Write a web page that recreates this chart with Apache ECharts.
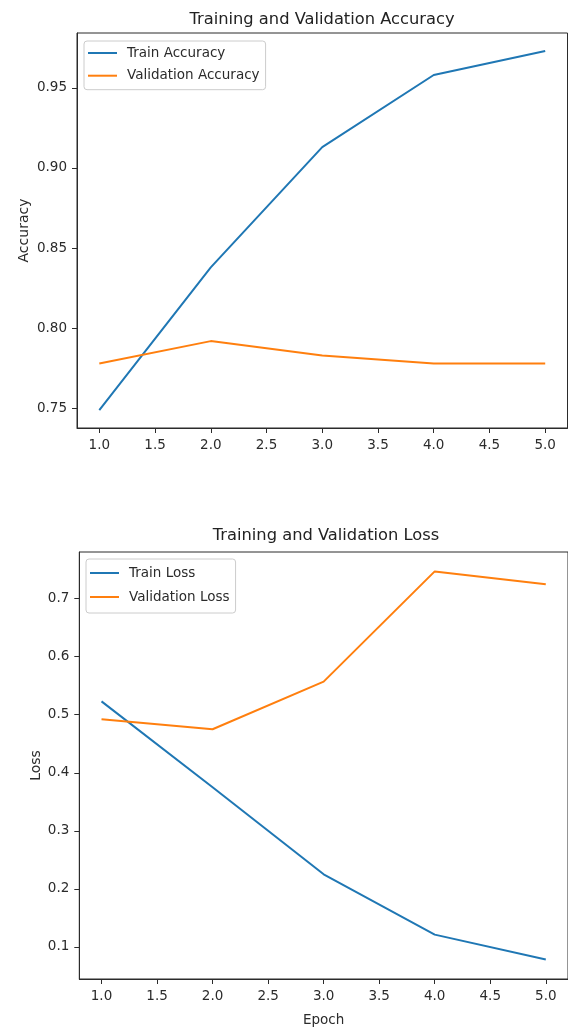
<!DOCTYPE html>
<html>
<head>
<meta charset="utf-8">
<script src="https://cdn.jsdelivr.net/npm/echarts@6/dist/echarts.min.js"></script>
<style>
  html, body { margin: 0; padding: 0; background: #fff; }
  #chart { width: 568px; height: 1028px; }
</style>
</head>
<body>
<div id="chart"></div>
<script>
// ---- Data ----
const epochs = [1, 2, 3, 4, 5];
const trainAcc = [0.749, 0.838, 0.913, 0.958, 0.973];
const valAcc = [0.778, 0.792, 0.783, 0.778, 0.778];
const trainLoss = [0.523, 0.375, 0.225, 0.121, 0.078];
const valLoss = [0.492, 0.475, 0.557, 0.747, 0.725];
const xTicks = [1.0, 1.5, 2.0, 2.5, 3.0, 3.5, 4.0, 4.5, 5.0];
const accTicks = [0.75, 0.80, 0.85, 0.90, 0.95];
const lossTicks = [0.1, 0.2, 0.3, 0.4, 0.5, 0.6, 0.7];

const FONT = 'DejaVu Sans';
const TXT = '#2b2b2b';
const BLUE = '#1f77b4';
const ORANGE = '#ff7f0e';

function pad(arrs) {
  const all = [].concat(...arrs);
  const lo = Math.min(...all), hi = Math.max(...all);
  const m = (hi - lo) * 0.05;
  return [lo - m, hi + m];
}
const accRange = pad([trainAcc, valAcc]);
const lossRange = pad([trainLoss, valLoss]);
const xRange = pad([epochs]);

function pairs(ys) { return epochs.map((e, i) => [e, ys[i]]); }

function xAxisCfg(gi, name) {
  return {
    type: 'value', gridIndex: gi, min: xRange[0], max: xRange[1],
    name: name || '', nameLocation: 'middle', nameGap: 34, nameMoveOverlap: false,
    nameTextStyle: { fontFamily: FONT, fontSize: 13.5, color: TXT },
    axisLine: { show: true, onZero: false, lineStyle: { color: TXT, width: 1 } },
    axisTick: { show: true, length: 5, customValues: xTicks, lineStyle: { color: TXT } },
    axisLabel: { customValues: xTicks, formatter: v => Number(v).toFixed(1), margin: 10,
      fontFamily: FONT, fontSize: 13.5, color: TXT },
    splitLine: { show: false }
  };
}
function yAxisCfg(gi, range, ticks, digits, name, gap) {
  return {
    type: 'value', gridIndex: gi, min: range[0], max: range[1],
    name: name, nameLocation: 'middle', nameGap: gap, nameMoveOverlap: false,
    nameTextStyle: { fontFamily: FONT, fontSize: 14, color: TXT },
    axisLine: { show: true, onZero: false, lineStyle: { color: TXT, width: 1 } },
    axisTick: { show: true, length: 5, customValues: ticks, lineStyle: { color: TXT } },
    axisLabel: { customValues: ticks, formatter: v => Number(v).toFixed(digits), margin: 10,
      fontFamily: FONT, fontSize: 13.5, color: TXT },
    splitLine: { show: false }
  };
}
function legendCfg(names, left, top, gap, padding) {
  return {
    data: names, orient: 'vertical', left: left, top: top,
    padding: padding, icon: 'rect', itemWidth: 29, itemHeight: 2, itemGap: gap,
    borderColor: '#cccccc', borderWidth: 1, borderRadius: 3,
    backgroundColor: 'rgba(255,255,255,0.8)',
    textStyle: { fontFamily: FONT, fontSize: 13.5, color: TXT, lineHeight: 16, padding: [0, 0, 0, 5] }
  };
}
function lineSeries(name, ys, color, gi) {
  return {
    name: name, type: 'line', xAxisIndex: gi, yAxisIndex: gi,
    data: pairs(ys), symbol: 'none', showSymbol: false,
    lineStyle: { color: color, width: 2 }, itemStyle: { color: color }
  };
}

const chart = echarts.init(document.getElementById('chart'), null, { renderer: 'canvas' });
chart.setOption({
  animation: false,
  backgroundColor: '#fff',
  title: [
    { text: 'Training and Validation Accuracy', left: 317, top: 7, textAlign: 'center',
      textStyle: { fontFamily: FONT, fontSize: 16.3, fontWeight: 'normal', color: '#222' } },
    { text: 'Training and Validation Loss', left: 321, top: 523, textAlign: 'center',
      textStyle: { fontFamily: FONT, fontSize: 16.3, fontWeight: 'normal', color: '#222' } }
  ],
  grid: [
    { left: 77, top: 33, width: 490.5, height: 395, show: true, borderColor: TXT, borderWidth: 1, containLabel: false },
    { left: 79.3, top: 552, width: 493, height: 428, show: true, borderColor: TXT, borderWidth: 1, containLabel: false }
  ],
  legend: [
    legendCfg(['Train Accuracy', 'Validation Accuracy'], 84, 41, 6.7, [4, 6, 6, 4]),
    legendCfg(['Train Loss', 'Validation Loss'], 86, 559, 8, [6, 6, 8, 4])
  ],
  xAxis: [xAxisCfg(0), xAxisCfg(1, 'Epoch')],
  yAxis: [
    yAxisCfg(0, accRange, accTicks, 2, 'Accuracy', 46),
    yAxisCfg(1, lossRange, lossTicks, 1, 'Loss', 36)
  ],
  series: [
    lineSeries('Train Accuracy', trainAcc, BLUE, 0),
    lineSeries('Validation Accuracy', valAcc, ORANGE, 0),
    lineSeries('Train Loss', trainLoss, BLUE, 1),
    lineSeries('Validation Loss', valLoss, ORANGE, 1)
  ]
});
</script>
</body>
</html>
